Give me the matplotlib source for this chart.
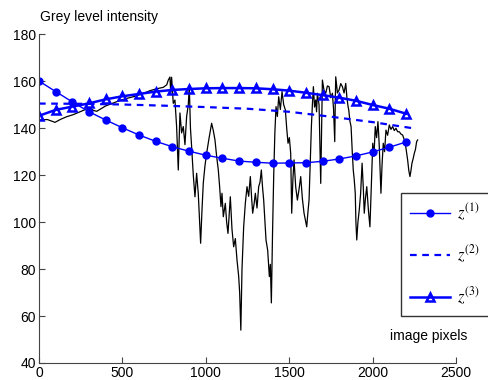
import numpy as np
import matplotlib.pyplot as plt

plt.rcParams['font.family'] = ['Liberation Sans', 'DejaVu Sans']
plt.rcParams['mathtext.fontset'] = 'stix'

# measured grey level along the image line
trace_x = [0, 50, 96, 130, 166, 206, 246, 286, 306, 326,
           346, 400, 466, 515, 565, 615, 666, 705, 745, 766,
           775, 785, 790, 795, 805, 815, 825, 835, 845, 855,
           865, 875, 885, 895, 901, 908, 915, 925, 935, 945,
           955, 969, 977, 985, 995, 1005, 1020, 1035, 1045, 1055,
           1065, 1075, 1083, 1091, 1097, 1105, 1117, 1125, 1133, 1147,
           1157, 1167, 1177, 1187, 1197, 1203, 1210, 1217, 1227, 1237,
           1247, 1257, 1267, 1275, 1281, 1290, 1297, 1307, 1317, 1325,
           1333, 1340, 1347, 1355, 1361, 1371, 1381, 1387, 1393, 1400,
           1407, 1414, 1421, 1429, 1437, 1447, 1457, 1467, 1477, 1485,
           1493, 1501, 1509, 1515, 1522, 1529, 1539, 1549, 1559, 1569,
           1579, 1589, 1597, 1605, 1612, 1619, 1626, 1633, 1639, 1645,
           1652, 1659, 1664, 1669, 1679, 1689, 1694, 1699, 1709, 1719,
           1729, 1739, 1749, 1759, 1766, 1773, 1776, 1779, 1789, 1799,
           1809, 1819, 1829, 1839, 1846, 1853, 1857, 1864, 1871, 1878,
           1884, 1890, 1896, 1900, 1905, 1912, 1920, 1928, 1937, 1944,
           1950, 1957, 1965, 1975, 1984, 1992, 2001, 2008, 2016, 2024,
           2032, 2036, 2040, 2045, 2050, 2057, 2064, 2072, 2080, 2090,
           2100, 2110, 2120, 2130, 2140, 2150, 2160, 2170, 2180, 2188,
           2196, 2203, 2210, 2217, 2224, 2230, 2236, 2243, 2250, 2257,
           2264, 2270]
trace_y = [143.5, 143.7, 142.5, 143.8, 144.9, 145.8, 147.0, 148.2, 148.6, 147.6,
           147.2, 149.5, 151.3, 152.5, 153.4, 154.5, 156.0, 156.8, 157.4, 158.5,
           160.5, 161.8, 154.9, 161.7, 150.6, 152.0, 140.7, 122.2, 146.5, 138.0,
           140.7, 133.0, 145.0, 150.0, 158.0, 140.0, 132.1, 120.0, 110.8, 120.8,
           112.0, 91.0, 105.0, 116.7, 124.0, 129.3, 136.0, 142.1, 139.0, 135.0,
           128.0, 122.2, 115.0, 106.6, 112.3, 102.3, 108.0, 100.0, 95.2, 110.8,
           97.0, 89.5, 93.0, 83.9, 77.0, 70.0, 54.0, 80.0, 98.0, 108.0,
           115.1, 111.0, 119.4, 110.0, 103.8, 108.0, 112.3, 106.0, 115.1, 117.0,
           122.2, 115.0, 109.4, 100.0, 92.4, 88.0, 76.8, 82.0, 65.6, 95.0,
           119.4, 138.0, 149.2, 145.0, 153.4, 148.0, 155.6, 150.0, 147.8, 140.0,
           133.6, 136.0, 129.3, 103.8, 118.0, 126.5, 115.0, 109.4, 114.0, 119.4,
           110.0, 103.8, 101.0, 98.0, 104.0, 109.4, 125.0, 140.7, 150.0, 157.7,
           149.0, 152.0, 147.0, 154.9, 150.0, 116.5, 140.0, 160.5, 156.0, 154.9,
           158.0, 157.7, 153.0, 154.9, 148.0, 134.3, 150.0, 161.9, 155.0, 156.3,
           159.0, 157.7, 155.0, 159.1, 153.0, 149.2, 147.8, 143.0, 140.7, 130.0,
           122.2, 118.0, 112.3, 100.0, 92.4, 100.0, 105.2, 112.0, 125.1, 115.0,
           103.8, 110.0, 115.1, 105.0, 98.0, 115.0, 133.6, 128.0, 140.7, 136.0,
           142.8, 138.0, 132.1, 122.0, 112.3, 125.0, 133.6, 130.0, 139.2, 137.0,
           141.4, 139.5, 140.7, 139.0, 140.0, 138.5, 138.5, 137.5, 137.1, 135.5,
           133.6, 130.0, 126.5, 122.0, 119.4, 122.0, 125.1, 127.0, 129.3, 131.0,
           134.3, 135.0]

# fitted curves
z_x = list(range(0, 2300, 100))
z1 = [160.1, 155.6, 151.2, 147.0, 143.5, 140.2, 137.1, 134.4, 132.1, 130.2,
      128.5, 127.2, 126.0, 125.5, 125.1, 125.2, 125.3, 125.9, 126.9, 128.2,
      129.9, 131.9, 134.1]
z3 = [145.3, 147.8, 149.2, 150.6, 152.3, 153.6, 154.6, 155.6, 156.3, 156.7,
      157.0, 157.1, 157.1, 157.0, 156.6, 156.0, 155.1, 154.1, 153.0, 151.7,
      149.9, 148.3, 146.2]
z2_x = [0, 250, 500, 750, 1000, 1250, 1500, 1750, 2000, 2240]
z2 = [150.5, 150.4, 150.1, 149.6, 149.0, 148.3, 147.0, 144.9, 142.6, 140.0]

fig = plt.figure(figsize=(4.89, 3.80), dpi=100)
ax = fig.add_axes([39 / 489, 1 - 363 / 380, 417 / 489, 328.7 / 380])

ax.plot(trace_x, trace_y, color='black', lw=0.9)
ax.plot(z_x, z1, color='blue', lw=1.0, marker='o', ms=5, label='$z^{(1)}$')
ax.plot(z2_x, z2, color='blue', lw=1.6, ls=(0, (3, 2.5)), label='$z^{(2)}$')
ax.plot(z_x, z3, color='blue', lw=1.8, marker='^', ms=6, mfc='none', mew=1.8,
        label='$z^{(3)}$')

ax.set_xlim(0, 2500)
ax.set_ylim(40, 180)
ax.set_xticks([0, 500, 1000, 1500, 2000, 2500])
ax.set_yticks([40, 60, 80, 100, 120, 140, 160, 180])
ax.spines['top'].set_visible(False)
ax.spines['right'].set_visible(False)
for s in ('left', 'bottom'):
    ax.spines[s].set_color('#444444')
ax.tick_params(direction='in', length=4, colors='#444444', labelcolor='black',
               labelsize=10, pad=2)

fig.text(40 / 489, 1 - 17 / 380, 'Grey level intensity', fontsize=10,
         ha='left', va='center')
fig.text(429 / 489, 1 - 336 / 380, 'image pixels', fontsize=10,
         ha='center', va='center')

leg = ax.legend(loc='upper left', bbox_to_anchor=(400.7 / 489, 1 - 192.7 / 380),
                bbox_transform=fig.transFigure, fontsize=12, frameon=True,
                fancybox=False, edgecolor='black', handlelength=2.4,
                labelspacing=1.25, borderpad=0.55, handletextpad=0.45,
                borderaxespad=0)
leg.get_frame().set_linewidth(1.0)

fig.savefig('out.png', dpi=100)
